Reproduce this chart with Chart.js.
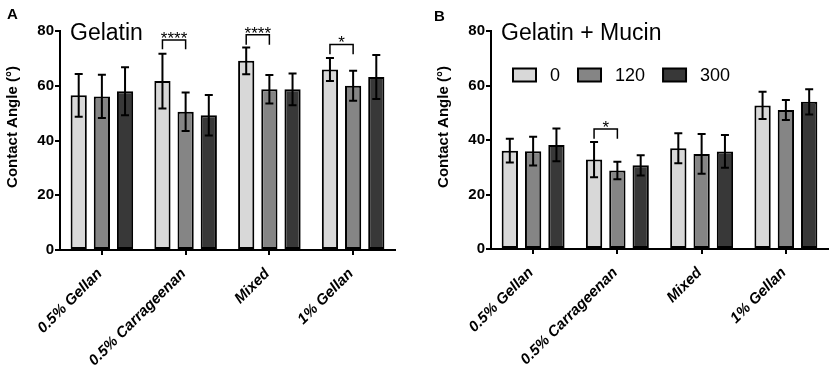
<!DOCTYPE html>
<html>
<head>
<meta charset="utf-8">
<script src="https://cdn.jsdelivr.net/npm/chart.js@4.4.1/dist/chart.umd.min.js"></script>
<style>
  html, body { margin: 0; padding: 0; background: #fff; overflow: hidden; }
  #wrap { position: relative; width: 829px; height: 374px; }
  canvas { position: absolute; top: 0; }
  #chartA { left: 0; }
  #chartB { left: 414px; }
</style>
</head>
<body>
<div id="wrap">
  <canvas id="chartA" width="414" height="374"></canvas>
  <canvas id="chartB" width="415" height="374"></canvas>
</div>
<script>
// categories and series (time, s)
const categories = ['0.5% Gellan', '0.5% Carrageenan', 'Mixed', '1% Gellan'];
const seriesLabels = ['0', '120', '300'];
const seriesColors = ['#d8d8d8', '#858585', '#383838'];
const yTicks = [0, 20, 40, 60, 80];

// panel A - gelatin, mean contact angle and SD
const gelatin0 = [56.5, 61.7, 69.1, 65.9];
const gelatin120 = [56.1, 50.5, 58.7, 60.0];
const gelatin300 = [58.0, 49.2, 58.7, 63.2];
const gelatinErr0 = [7.8, 10.0, 4.9, 4.2];
const gelatinErr120 = [7.9, 7.0, 5.2, 5.5];
const gelatinErr300 = [8.8, 7.4, 5.8, 8.0];

// panel B - gelatin + mucin
const mucin0 = [36.1, 32.8, 37.0, 52.7];
const mucin120 = [35.9, 28.8, 34.9, 51.0];
const mucin300 = [38.2, 30.7, 35.8, 54.0];
const mucinErr0 = [4.4, 6.5, 5.5, 5.0];
const mucinErr120 = [5.3, 3.2, 7.3, 3.7];
const mucinErr300 = [6.0, 3.7, 6.0, 4.6];

// significance brackets (between 0 and 120 in a category)
const sigCatA = [1, 2, 3];
const sigTopA = [76.7, 78.6, 75.1];
const sigDropA = [73.3, 75.0, 71.5];
const sigLabelA = ['****', '****', '*'];
const sigCatB = [1];
const sigTopB = [44.0];
const sigDropB = [40.5];
const sigLabelB = ['*'];

const FONT = '"Liberation Sans", Arial, sans-serif';
Chart.defaults.font.family = FONT;
Chart.defaults.color = '#000';

const panelExtras = {
  id: 'panelExtras',
  afterDatasetsDraw(chart, args, opts) {
    const ctx = chart.ctx;
    const y = chart.scales.y;
    ctx.save();
    ctx.strokeStyle = '#000';

    // error bars
    ctx.lineWidth = 2;
    opts.errors.forEach((errs, di) => {
      const meta = chart.getDatasetMeta(di);
      const vals = chart.data.datasets[di].data;
      meta.data.forEach((bar, i) => {
        const yTop = y.getPixelForValue(vals[i] + errs[i]);
        const yBot = y.getPixelForValue(vals[i] - errs[i]);
        ctx.beginPath();
        ctx.moveTo(bar.x, yTop); ctx.lineTo(bar.x, yBot);
        ctx.moveTo(bar.x - 4, yTop); ctx.lineTo(bar.x + 4, yTop);
        ctx.moveTo(bar.x - 4, yBot); ctx.lineTo(bar.x + 4, yBot);
        ctx.stroke();
      });
    });

    // significance brackets
    ctx.lineWidth = 1.5;
    ctx.font = '17px ' + FONT;
    ctx.fillStyle = '#000';
    ctx.textAlign = 'center';
    ctx.textBaseline = 'alphabetic';
    opts.sigCat.forEach((c, k) => {
      const x1 = chart.getDatasetMeta(0).data[c].x;
      const x2 = chart.getDatasetMeta(1).data[c].x;
      const yt = y.getPixelForValue(opts.sigTop[k]);
      const yd = y.getPixelForValue(opts.sigDrop[k]);
      ctx.beginPath();
      ctx.moveTo(x1, yd); ctx.lineTo(x1, yt); ctx.lineTo(x2, yt); ctx.lineTo(x2, yd);
      ctx.stroke();
      ctx.fillText(opts.sigLabel[k], (x1 + x2) / 2, yt + 4);
    });
    ctx.restore();
  },
  afterDraw(chart, args, opts) {
    const ctx = chart.ctx;
    const area = chart.chartArea;
    ctx.save();
    ctx.fillStyle = '#000';

    // panel letter
    ctx.font = 'bold 15px ' + FONT;
    ctx.textAlign = 'left';
    ctx.textBaseline = 'alphabetic';
    ctx.fillText(opts.letter, opts.letterX, opts.letterY);

    // panel title
    ctx.font = '23px ' + FONT;
    ctx.fillText(opts.title, area.left + 10, area.top + 9);

    // y-axis title
    ctx.save();
    ctx.translate(area.left - 47, area.top + 96);
    ctx.rotate(-Math.PI / 2);
    ctx.font = 'bold 15px ' + FONT;
    ctx.textAlign = 'center';
    ctx.textBaseline = 'middle';
    ctx.fillText('Contact Angle (°)', 0, 0);
    ctx.restore();

    // legend
    if (opts.legend) {
      let x = area.left + 22;
      const yc = area.top + 44;
      ctx.font = '18px ' + FONT;
      ctx.textBaseline = 'middle';
      ctx.textAlign = 'left';
      chart.data.datasets.forEach(ds => {
        ctx.fillStyle = ds.backgroundColor;
        ctx.fillRect(x, yc - 6.5, 23, 13);
        ctx.strokeStyle = '#000';
        ctx.lineWidth = 2;
        ctx.strokeRect(x, yc - 6.5, 23, 13);
        ctx.fillStyle = '#000';
        ctx.fillText(ds.label, x + 37, yc + 1);
        x += 37 + ctx.measureText(ds.label).width + 18;
      });
    }
    ctx.restore();
  }
};

function buildChart(canvasId, values, errors, sig, extras, box) {
  const datasets = values.map((vals, i) => ({
    label: seriesLabels[i],
    data: vals,
    backgroundColor: seriesColors[i],
    borderColor: '#000',
    borderWidth: 2,
    borderSkipped: false,
    categoryPercentage: 0.83,
    barPercentage: 0.7
  }));
  return new Chart(document.getElementById(canvasId), {
    type: 'bar',
    data: { labels: categories, datasets: datasets },
    options: {
      responsive: false,
      animation: false,
      devicePixelRatio: 1,
      layout: { padding: { left: 0, right: box.padRight, top: 31, bottom: 0 } },
      plugins: {
        legend: { display: false },
        tooltip: { enabled: false },
        panelExtras: Object.assign({
          errors: errors,
          sigCat: sig[0], sigTop: sig[1], sigDrop: sig[2], sigLabel: sig[3]
        }, extras)
      },
      scales: {
        x: {
          offset: true,
          grid: { display: true, drawOnChartArea: false, drawTicks: true, tickLength: 5, color: '#000', lineWidth: 2, offset: false },
          border: { display: true, color: '#000', width: 2 },
          ticks: {
            autoSkip: false, minRotation: 45, maxRotation: 45, padding: 10, labelOffset: -2, color: '#000',
            font: { size: 15, weight: 'bold', style: 'italic' }
          },
          afterFit: s => { s.height = box.xHeight; }
        },
        y: {
          min: 0, max: 80,
          afterBuildTicks: s => { s.ticks = yTicks.map(v => ({ value: v })); },
          grid: { display: true, drawOnChartArea: false, drawTicks: true, tickLength: 5, color: '#000', lineWidth: 2 },
          border: { display: true, color: '#000', width: 2 },
          ticks: { padding: 1, color: '#000', font: { size: 15, weight: 'bold' } },
          afterFit: s => { s.width = box.yWidth; }
        }
      }
    },
    plugins: [panelExtras]
  });
}

buildChart('chartA',
  [gelatin0, gelatin120, gelatin300],
  [gelatinErr0, gelatinErr120, gelatinErr300],
  [sigCatA, sigTopA, sigDropA, sigLabelA],
  { letter: 'A', letterX: 7, letterY: 19, title: 'Gelatin', legend: false },
  { yWidth: 60, padRight: 19, xHeight: 124 });

buildChart('chartB',
  [mucin0, mucin120, mucin300],
  [mucinErr0, mucinErr120, mucinErr300],
  [sigCatB, sigTopB, sigDropB, sigLabelB],
  { letter: 'B', letterX: 20, letterY: 21, title: 'Gelatin + Mucin', legend: true },
  { yWidth: 77, padRight: 1, xHeight: 125 });
</script>
</body>
</html>
